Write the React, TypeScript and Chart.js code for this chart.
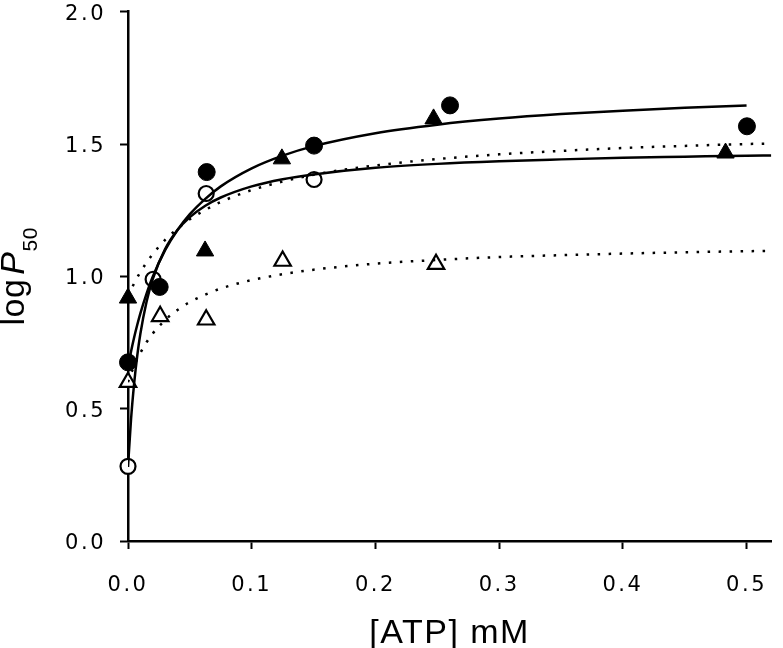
import React, { useEffect, useRef } from 'react';
import { Chart, registerables } from 'chart.js';

Chart.register(...registerables);

// ---- Data ----
const xTickValues = [0, 0.1, 0.2, 0.3, 0.4, 0.5];
const yTickValues = [0, 0.5, 1.0, 1.5, 2.0];
const xTitle = '[ATP] mM';
const yTitleMain = 'log';
const yTitleItalic = 'P';
const yTitleSub = '50';

// filled circles
const filledCircleX = [0, 0.0256, 0.0636, 0.1504, 0.2603, 0.5003];
const filledCircleY = [0.675, 0.96, 1.394, 1.494, 1.646, 1.567];
// open circles
const openCircleX = [0, 0.0203, 0.0632, 0.1504];
const openCircleY = [0.282, 0.989, 1.313, 1.366];
// filled triangles
const filledTriX = [0, 0.0623, 0.1244, 0.247, 0.483];
const filledTriY = [0.918, 1.096, 1.444, 1.595, 1.466];
// open triangles
const openTriX = [0, 0.026, 0.0632, 0.125, 0.249];
const openTriY = [0.6, 0.849, 0.836, 1.058, 1.046];

// fitted curves
const fitX = [0, 0.0025, 0.005, 0.0075, 0.01, 0.015, 0.02, 0.03, 0.04, 0.05, 0.0625, 0.075, 0.1, 0.125, 0.15, 0.2, 0.25, 0.3, 0.35, 0.4, 0.45, 0.5, 0.52];
const fitFilledCircleY = [0.658, 0.717, 0.770, 0.817, 0.860, 0.935, 0.999, 1.099, 1.175, 1.235, 1.293, 1.340, 1.408, 1.456, 1.492, 1.541, 1.573, 1.596, 1.613, 1.626, 1.637, 1.646];
const fitOpenCircleY = [0.280, 0.463, 0.597, 0.701, 0.783, 0.904, 0.990, 1.103, 1.175, 1.224, 1.267, 1.298, 1.340, 1.367, 1.385, 1.410, 1.425, 1.435, 1.442, 1.448, 1.452, 1.456, 1.457];
const fitFilledTriY = [0.925, 0.950, 0.974, 0.996, 1.016, 1.052, 1.084, 1.138, 1.180, 1.216, 1.251, 1.281, 1.326, 1.358, 1.384, 1.419, 1.443, 1.461, 1.474, 1.485, 1.493, 1.500, 1.502];
const fitOpenTriY = [0.600, 0.633, 0.662, 0.688, 0.711, 0.751, 0.784, 0.835, 0.873, 0.903, 0.931, 0.954, 0.986, 1.008, 1.025, 1.048, 1.062, 1.073, 1.080, 1.086, 1.091, 1.095, 1.096];

const FONT = "'Liberation Sans', Arial, sans-serif";
const TICK_FONT = "'DejaVu Sans', 'Liberation Sans', sans-serif";

Chart.defaults.color = '#000';

const pts = (xs: number[], ys: number[]) => ys.map((y, i) => ({ x: xs[i], y }));

const textPlugin = {
  id: 'axisTexts',
  beforeLayout(chart: any) {
    chart.ctx.letterSpacing = '2.5px';
  },
  beforeDraw(chart: any) {
    chart.ctx.letterSpacing = '2.5px';
  },
  afterDraw(chart: any) {
    const ctx = chart.ctx as any;
    const { left, right, top, bottom } = chart.chartArea;
    ctx.save();
    ctx.fillStyle = '#000';
    ctx.letterSpacing = '1.5px';
    ctx.font = `34px ${FONT}`;
    ctx.textAlign = 'center';
    ctx.textBaseline = 'alphabetic';
    ctx.fillText(xTitle, (left + right) / 2, 643);

    // y title, rotated
    ctx.letterSpacing = '0.5px';
    ctx.translate(24, (top + bottom) / 2);
    ctx.rotate(-Math.PI / 2);
    ctx.textAlign = 'left';
    ctx.font = `34px ${FONT}`;
    const w1 = ctx.measureText(yTitleMain).width;
    ctx.font = `italic 34px ${FONT}`;
    const w2 = ctx.measureText(yTitleItalic).width;
    ctx.font = `21px ${FONT}`;
    const w3 = ctx.measureText(yTitleSub).width;
    const gap = 4;
    const total = w1 + gap + w2 + w3;
    let x0 = -total / 2;
    ctx.font = `34px ${FONT}`;
    ctx.fillText(yTitleMain, x0, 0);
    x0 += w1 + gap;
    ctx.font = `italic 34px ${FONT}`;
    ctx.fillText(yTitleItalic, x0, 0);
    x0 += w2;
    ctx.font = `21px ${FONT}`;
    ctx.fillText(yTitleSub, x0, 13);
    ctx.restore();
  },
};

export default function App() {
  const ref = useRef<HTMLCanvasElement>(null);

  useEffect(() => {
    const lineBase = {
      showLine: true,
      pointRadius: 0,
      pointHoverRadius: 0,
      borderColor: '#000',
      borderWidth: 2.5,
      fill: false,
      cubicInterpolationMode: 'monotone' as const,
      order: 0,
    };
    const markerBase = {
      showLine: false,
      borderColor: '#000',
      clip: false as any,
      order: 1,
    };
    const tickFont = { family: TICK_FONT, size: 21 };
    const chart = new Chart(ref.current!, {
      type: 'scatter',
      data: {
        datasets: [
          { ...lineBase, label: 'fit filled circles', data: pts(fitX, fitFilledCircleY) },
          { ...lineBase, label: 'fit open circles', data: pts(fitX, fitOpenCircleY) },
          { ...lineBase, label: 'fit filled triangles', data: pts(fitX, fitFilledTriY), borderDash: [2.5, 8.5] },
          { ...lineBase, label: 'fit open triangles', data: pts(fitX, fitOpenTriY), borderDash: [2.5, 8.5] },
          { ...markerBase, label: 'filled circles', data: pts(filledCircleX, filledCircleY), pointStyle: 'circle', pointRadius: 8.5, backgroundColor: '#000', borderWidth: 1 },
          { ...markerBase, label: 'open circles', data: pts(openCircleX, openCircleY), pointStyle: 'circle', pointRadius: 7.5, backgroundColor: '#fff', borderWidth: 2.2 },
          { ...markerBase, label: 'filled triangles', data: pts(filledTriX, filledTriY), pointStyle: 'triangle', pointRadius: 10, backgroundColor: '#000', borderWidth: 1 },
          { ...markerBase, label: 'open triangles', data: pts(openTriX, openTriY), pointStyle: 'triangle', pointRadius: 9.5, backgroundColor: '#fff', borderWidth: 2.2 },
        ] as any,
      },
      options: {
        responsive: false,
        animation: false,
        devicePixelRatio: 1,
        events: [],
        layout: { padding: { top: 10, right: 5, left: 0, bottom: 0 } },
        plugins: { legend: { display: false }, tooltip: { enabled: false }, title: { display: false } },
        scales: {
          x: {
            type: 'linear',
            min: 0,
            max: 0.52,
            afterBuildTicks: (s: any) => { s.ticks = xTickValues.map((v) => ({ value: v })); },
            ticks: {
              includeBounds: false,
              maxRotation: 0,
              autoSkip: false,
              color: '#000',
              padding: 24,
              font: tickFont,
              callback: (v: any) => Number(v).toFixed(1),
            },
            grid: { drawOnChartArea: false, drawTicks: true, tickLength: 8, tickColor: '#000', tickWidth: 2 },
            border: { display: true, color: '#000', width: 2.5 },
            afterFit: (s: any) => { s.height = 107; s.paddingLeft = 0; s.paddingRight = 0; },
          },
          y: {
            type: 'linear',
            min: 0,
            max: 2,
            afterBuildTicks: (s: any) => { s.ticks = yTickValues.map((v) => ({ value: v })); },
            ticks: {
              color: '#000',
              padding: 14,
              labelOffset: 2.5,
              font: tickFont,
              callback: (v: any) => Number(v).toFixed(1),
            },
            grid: { drawOnChartArea: false, drawTicks: true, tickLength: 8, tickColor: '#000', tickWidth: 2 },
            border: { display: true, color: '#000', width: 2.5 },
            afterFit: (s: any) => { s.width = 128; s.paddingTop = 0; s.paddingBottom = 0; },
          },
        },
      } as any,
      plugins: [textPlugin],
    });
    return () => chart.destroy();
  }, []);

  return (
    <div style={{ position: 'fixed', left: 0, top: 0, width: 783, height: 648, background: '#fff' }}>
      <canvas ref={ref} width={783} height={648} style={{ display: 'block', width: 783, height: 648 }} />
    </div>
  );
}
